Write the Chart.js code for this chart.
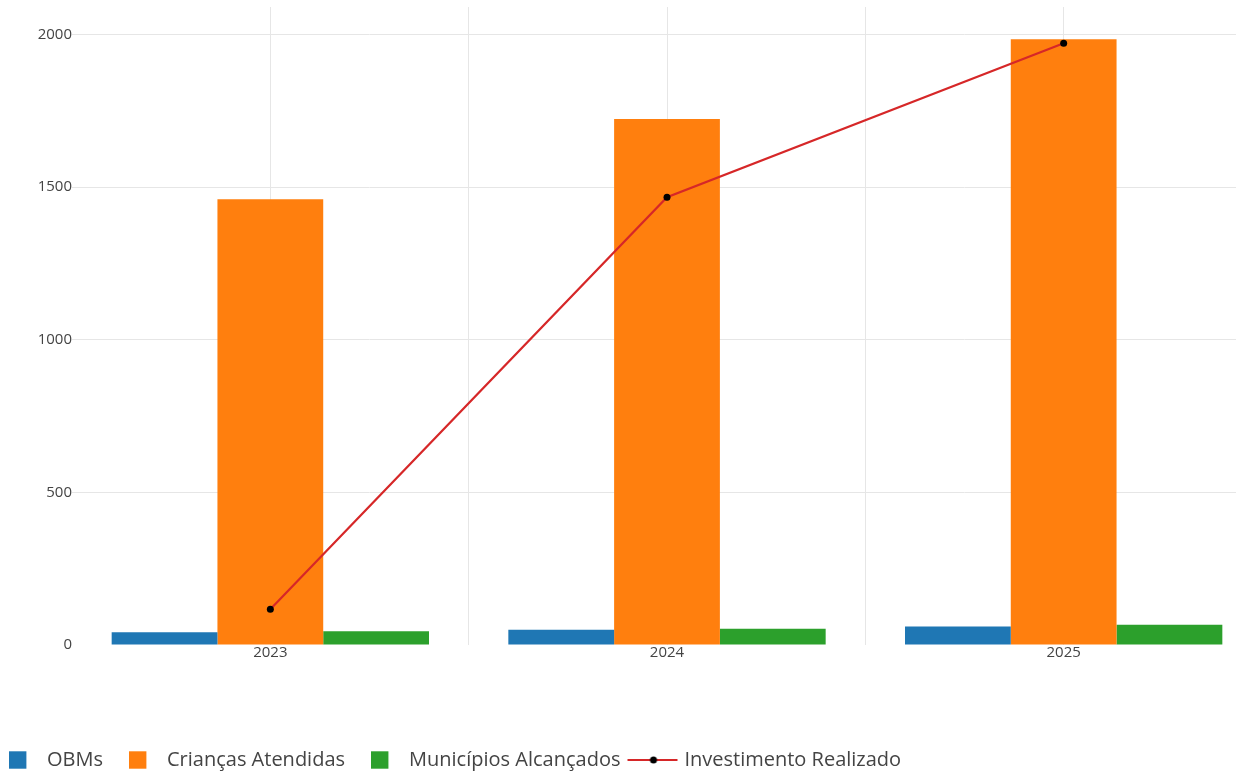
<!DOCTYPE html>
<html lang="pt">
<head>
    <meta charset="UTF-8">
    <title>OBMs, Crianças e Investimento</title>
    <script src="https://cdn.jsdelivr.net/npm/chart.js"></script>
    <style>
        html, body {
            margin: 0;
            padding: 0;
            overflow: hidden;
            background: #fff;
        }
        /* the plot is a bit wider than the window, the right edge gets cut like in the original */
        .chart-box {
            position: absolute;
            left: -17px;
            top: 0;
            width: 1283px;
            height: 780px;
        }
    </style>
</head>
<body>
<div class="chart-box">
    <canvas id="projetoChart"></canvas>
</div>

<script>
    // dados
    const anos = ['2023', '2024', '2025'];
    const obms = [42, 50, 61];
    const criancasAtendidas = [1460, 1723, 1984];
    const municipiosAlcancados = [45, 53, 66];
    const investimentoRealizado = [117, 1467, 1971];
    const yTicks = [0, 500, 1000, 1500, 2000];

    const azul = '#1f77b4';
    const laranja = '#ff7f0e';
    const verde = '#2ca02c';
    const vermelho = '#d62728';
    const gridColor = '#e6e6e6';
    const textColor = '#444';

    // ícones da legenda (quadrado e linha com ponto)
    function squareIcon(color) {
        const c = document.createElement('canvas');
        c.width = 28;
        c.height = 20;
        const ctx = c.getContext('2d');
        ctx.fillStyle = color;
        ctx.fillRect(0, 1.3, 17.4, 17.4);
        return c;
    }

    function lineIcon(color) {
        const c = document.createElement('canvas');
        c.width = 72;
        c.height = 20;
        const ctx = c.getContext('2d');
        ctx.strokeStyle = color;
        ctx.lineWidth = 2;
        ctx.beginPath();
        ctx.moveTo(3, 10);
        ctx.lineTo(53, 10);
        ctx.stroke();
        ctx.fillStyle = '#000';
        ctx.beginPath();
        ctx.arc(29, 10, 3.5, 0, Math.PI * 2);
        ctx.fill();
        return c;
    }

    const icones = [squareIcon(azul), squareIcon(laranja), squareIcon(verde), lineIcon(vermelho)];

    new Chart(document.getElementById('projetoChart').getContext('2d'), {
        type: 'bar',
        data: {
            labels: anos,
            datasets: [
                {
                    label: 'OBMs',
                    data: obms,
                    backgroundColor: azul
                },
                {
                    label: 'Crianças Atendidas',
                    data: criancasAtendidas,
                    backgroundColor: laranja
                },
                {
                    label: 'Municípios Alcançados',
                    data: municipiosAlcancados,
                    backgroundColor: verde
                },
                {
                    type: 'line',
                    label: 'Investimento Realizado',
                    data: investimentoRealizado,
                    borderColor: vermelho,
                    borderWidth: 2.2,
                    pointRadius: 3.5,
                    pointBackgroundColor: '#000',
                    pointBorderWidth: 0,
                    tension: 0,
                    fill: false,
                    order: -1
                }
            ]
        },
        options: {
            responsive: true,
            maintainAspectRatio: false,
            animation: false,
            layout: {
                padding: { top: 7, left: 0, right: 0, bottom: 0 }
            },
            scales: {
                x: {
                    offset: true,
                    grid: {
                        offset: true,
                        drawTicks: false,
                        color: ctx => ctx.index === 0 ? 'rgba(0,0,0,0)' : gridColor
                    },
                    border: { display: false },
                    ticks: {
                        padding: -1,
                        color: textColor,
                        font: { family: 'Open Sans', size: 15 }
                    },
                    afterFit: scale => { scale.height = 79; }
                },
                // só para as linhas verticais no centro de cada ano
                xCentro: {
                    type: 'category',
                    axis: 'x',
                    labels: anos,
                    position: 'top',
                    offset: true,
                    grid: {
                        offset: false,
                        drawTicks: false,
                        color: gridColor
                    },
                    border: { display: false },
                    ticks: { display: false },
                    afterFit: scale => { scale.height = 0; }
                },
                y: {
                    min: 0,
                    max: 2090,
                    afterBuildTicks: scale => {
                        scale.ticks = yTicks.map(v => ({ value: v }));
                    },
                    grid: {
                        drawTicks: false,
                        color: ctx => ctx.tick && ctx.tick.value === 0 ? 'rgba(0,0,0,0)' : gridColor
                    },
                    border: { display: false },
                    ticks: {
                        padding: 0,
                        color: textColor,
                        font: { family: 'Open Sans', size: 15 },
                        callback: v => String(v)
                    },
                    afterFit: scale => {
                        scale.width = 89;
                        scale.paddingTop = 0;
                    }
                }
            },
            datasets: {
                bar: {
                    categoryPercentage: 0.8,
                    barPercentage: 1.0
                }
            },
            plugins: {
                tooltip: { enabled: false },
                legend: {
                    position: 'bottom',
                    align: 'start',
                    labels: {
                        usePointStyle: true,
                        pointStyleWidth: 28,
                        padding: 26,
                        color: textColor,
                        font: { family: 'Open Sans', size: 20 },
                        generateLabels: chart => {
                            const items = Chart.defaults.plugins.legend.labels.generateLabels(chart);
                            items.sort((a, b) => a.datasetIndex - b.datasetIndex);
                            items.forEach(item => {
                                item.pointStyle = icones[item.datasetIndex];
                            });
                            return items;
                        }
                    }
                }
            }
        }
    });
</script>
</body>
</html>
